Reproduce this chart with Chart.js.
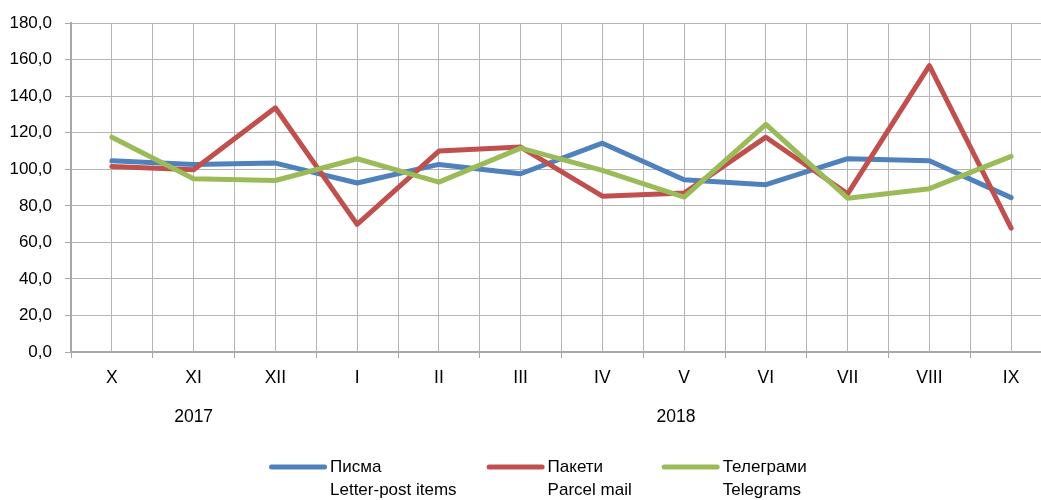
<!DOCTYPE html>
<html>
<head>
<meta charset="utf-8">
<script src="https://cdn.jsdelivr.net/npm/chart.js@4"></script>
<style>
  html, body { margin: 0; padding: 0; background: #fff; overflow: hidden; }
  #wrap { position: relative; width: 1062px; height: 530px; }
</style>
</head>
<body>
<div id="wrap"><canvas id="chart"></canvas></div>
<script>
// mesecite (X.2017 - IX.2018)
const months = ["X", "XI", "XII", "I", "II", "III", "IV", "V", "VI", "VII", "VIII", "IX"];
const years = ["2017", "2018"];
const yearPos = [1, 6.9];

// indeksi, prethodniot mesec = 100
const pisma = [104.7, 102.7, 103.4, 92.5, 102.7, 97.6, 114.3, 94.3, 91.6, 105.8, 104.7, 84.5];
const paketi = [101.6, 99.8, 133.7, 69.9, 110.0, 112.2, 85.3, 87.0, 117.6, 86.6, 156.8, 67.8];
const telegrami = [117.6, 94.9, 93.9, 105.8, 93.0, 111.6, 99.4, 84.8, 124.6, 84.2, 89.4, 107.1];

const yTicks = [0, 20, 40, 60, 80, 100, 120, 140, 160, 180];

const FONT = "'Liberation Sans', Arial, sans-serif";
const GRID = "#b4b4b4";
const AXIS = "#a8a8a8";

function toPoints(arr) {
  return arr.map((v, i) => ({ x: i, y: v }));
}

function series(label, data, color, order) {
  return {
    label: label,
    data: toPoints(data),
    borderColor: color,
    backgroundColor: color,
    borderWidth: 5,
    borderCapStyle: "round",
    borderJoinStyle: "round",
    pointRadius: 0,
    tension: 0,
    order: order
  };
}

// godini pod mesecite
const yearLabels = {
  id: "yearLabels",
  afterDraw(chart) {
    const ctx = chart.ctx;
    const x = chart.scales.x;
    ctx.save();
    ctx.font = "17.5px " + FONT;
    ctx.fillStyle = "#000";
    ctx.textAlign = "center";
    ctx.textBaseline = "middle";
    years.forEach((y, i) => {
      ctx.fillText(y, x.getPixelForValue(yearPos[i]), chart.chartArea.bottom + 65);
    });
    ctx.restore();
  }
};

// legenda so dva reda tekst (mk / en)
const twoLineLegend = {
  id: "twoLineLegend",
  afterDraw(chart) {
    const ctx = chart.ctx;
    const y = chart.chartArea.bottom + 115;
    let x = 269;
    ctx.save();
    ctx.font = "17px " + FONT;
    ctx.textBaseline = "middle";
    ctx.textAlign = "left";
    chart.data.datasets.forEach(ds => {
      ctx.strokeStyle = ds.borderColor;
      ctx.lineWidth = 5;
      ctx.lineCap = "round";
      ctx.beginPath();
      ctx.moveTo(x + 2.5, y);
      ctx.lineTo(x + 55.5, y);
      ctx.stroke();
      ctx.fillStyle = "#000";
      let w = 0;
      ds.label.forEach((line, i) => {
        ctx.fillText(line, x + 61, y + i * 23);
        w = Math.max(w, ctx.measureText(line).width);
      });
      x += 61 + w + 30;
    });
    ctx.restore();
  }
};

new Chart(document.getElementById("chart"), {
  type: "line",
  data: {
    datasets: [
      series(["Писма", "Letter-post items"], pisma, "#4F81BD", 3),
      series(["Пакети", "Parcel mail"], paketi, "#C0504D", 2),
      series(["Телеграми", "Telegrams"], telegrami, "#9BBB59", 1)
    ]
  },
  options: {
    responsive: true,
    maintainAspectRatio: false,
    animation: false,
    layout: { padding: { top: 13, right: 2, left: 0, bottom: 103 } },
    plugins: {
      tooltip: { enabled: false },
      legend: { display: false }
    },
    scales: {
      x: {
        type: "linear",
        min: -0.5,
        max: 11.5,
        afterBuildTicks: scale => {
          const t = [];
          for (let v = -0.5; v <= 11.5; v += 0.5) t.push({ value: v });
          scale.ticks = t;
        },
        afterFit: scale => { scale.height = 75; },
        grid: {
          color: GRID,
          lineWidth: 1,
          tickLength: 6,
          tickColor: c => Number.isInteger(c.tick.value) ? "transparent" : AXIS
        },
        border: { color: AXIS, width: 2 },
        ticks: {
          autoSkip: false,
          maxRotation: 0,
          padding: 10,
          color: "#000",
          font: { family: FONT, size: 17.5 },
          callback: v => Number.isInteger(v) ? months[v] : ""
        }
      },
      y: {
        min: 0,
        max: 180,
        afterBuildTicks: scale => { scale.ticks = yTicks.map(v => ({ value: v })); },
        afterFit: scale => { scale.width = 71; },
        grid: { color: GRID, lineWidth: 1, tickLength: 6, tickColor: AXIS },
        border: { color: AXIS, width: 2 },
        ticks: {
          padding: 13,
          color: "#000",
          font: { family: FONT, size: 17 },
          callback: v => v.toFixed(1).replace(".", ",")
        }
      }
    }
  },
  plugins: [yearLabels, twoLineLegend]
});
</script>
</body>
</html>
